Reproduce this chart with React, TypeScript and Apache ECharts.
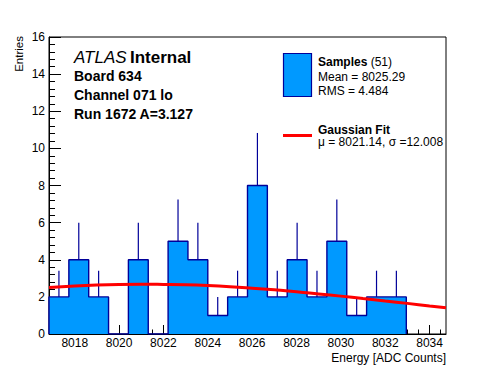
import React, { useEffect, useRef } from "react";
import * as echarts from "echarts";

// Histogram binning
const BIN_START = 8016.84;
const BIN_WIDTH = 0.895;
const X_MIN = 8016.84;
const X_MAX = 8034.74;

const binCounts = [2, 4, 2, 0, 4, 0, 5, 4, 1, 2, 8, 2, 4, 2, 5, 1, 2, 2];
const binErrors = [1.41, 2, 1.41, 0, 2, 0, 2.24, 2, 1, 1.41, 2.83, 1.41, 2, 1.41, 2.24, 1, 1.41, 1.41];

// Gaussian fit curve
const fitX = [8016.84, 8018, 8019, 8020, 8021, 8022, 8023, 8024, 8025, 8026, 8027, 8028, 8029, 8030, 8031, 8032, 8033, 8034, 8034.74];
const fitY = [2.51, 2.59, 2.64, 2.67, 2.68, 2.67, 2.65, 2.61, 2.55, 2.47, 2.38, 2.28, 2.16, 2.04, 1.91, 1.78, 1.65, 1.51, 1.41];

// Axis ticks
const xMajorTicks = [8018, 8020, 8022, 8024, 8026, 8028, 8030, 8032, 8034];
const xMinorTicks = [
  8017, 8017.5, 8018.5, 8019, 8019.5, 8020.5, 8021, 8021.5, 8022.5, 8023, 8023.5,
  8024.5, 8025, 8025.5, 8026.5, 8027, 8027.5, 8028.5, 8029, 8029.5, 8030.5, 8031,
  8031.5, 8032.5, 8033, 8033.5, 8034.5,
];

const titleLines = ["Board 634", "Channel 071 lo", "Run 1672 A=3.127"];
const legendSamples = ["Mean = 8025.29", "RMS = 4.484"];
const legendFit = "\u03bc = 8021.14, \u03c3 =12.008";

const FONT = "'Liberation Sans', Arial, Helvetica, sans-serif";
const FILL = "#0099ff";
const EDGE = "#000099";

export default function App() {
  const ref = useRef<HTMLDivElement>(null);

  useEffect(() => {
    if (!ref.current) return;
    const chart = echarts.init(ref.current, undefined, { renderer: "svg" });

    const stepData: number[][] = [[BIN_START, 0]];
    binCounts.forEach((c, i) => {
      const x0 = BIN_START + i * BIN_WIDTH;
      const x1 = x0 + BIN_WIDTH;
      stepData.push([x0, c], [x1, c]);
    });
    stepData.push([BIN_START + binCounts.length * BIN_WIDTH, 0]);

    const errData = binCounts.map((c, i) => [
      BIN_START + (i + 0.5) * BIN_WIDTH,
      c,
      c + binErrors[i],
    ]);

    const fitData = fitX.map((x, i) => [x, fitY[i]]);

    const option: any = {
      animation: false,
      grid: {
        left: 49,
        right: 50,
        top: 37,
        bottom: 38,
        show: true,
        borderColor: "#000",
        borderWidth: 1,
        backgroundColor: "transparent",
      },
      xAxis: [
        {
          type: "value",
          min: X_MIN,
          max: X_MAX,
          position: "bottom",
          axisLine: { show: true, onZero: false, lineStyle: { color: "#000", width: 1 } },
          axisTick: {
            show: true,
            inside: true,
            length: 9,
            customValues: xMajorTicks,
            lineStyle: { color: "#000", width: 1 },
          },
          axisLabel: {
            show: true,
            customValues: xMajorTicks,
            color: "#000",
            fontFamily: FONT,
            fontSize: 12,
            margin: 3,
            formatter: (v: number) => String(Math.round(v)),
          },
          splitLine: { show: false },
        },
        {
          type: "value",
          min: X_MIN,
          max: X_MAX,
          position: "bottom",
          gridIndex: 0,
          axisLine: { show: false },
          axisTick: {
            show: true,
            inside: true,
            length: 4.5,
            customValues: xMinorTicks,
            lineStyle: { color: "#000", width: 1 },
          },
          axisLabel: { show: false },
          splitLine: { show: false },
        },
      ],
      yAxis: {
        type: "value",
        min: 0,
        max: 16,
        interval: 2,
        axisLine: { show: true, lineStyle: { color: "#000", width: 1 } },
        axisTick: { show: true, inside: true, length: 12, lineStyle: { color: "#000" } },
        minorTick: { show: true, splitNumber: 5, length: 6, lineStyle: { color: "#000" } },
        axisLabel: { color: "#000", fontFamily: FONT, fontSize: 12, margin: 4 },
        splitLine: { show: false },
        minorSplitLine: { show: false },
      },
      series: [
        {
          type: "custom",
          xAxisIndex: 0,
          yAxisIndex: 0,
          data: errData,
          encode: { x: 0, y: [1, 2] },
          z: 1,
          renderItem: (params: any, api: any) => {
            const c = api.value(1);
            if (!c) return { type: "group", children: [] };
            const p0 = api.coord([api.value(0), c]);
            const p1 = api.coord([api.value(0), api.value(2)]);
            return {
              type: "line",
              shape: { x1: p0[0], y1: p0[1], x2: p1[0], y2: p1[1] },
              style: { stroke: EDGE, lineWidth: 1.2 },
            };
          },
        },
        {
          type: "line",
          xAxisIndex: 0,
          yAxisIndex: 0,
          data: stepData,
          symbol: "none",
          z: 2,
          lineStyle: { color: EDGE, width: 1.4 },
          areaStyle: { color: FILL, opacity: 1 },
        },
        {
          type: "line",
          xAxisIndex: 0,
          yAxisIndex: 0,
          data: fitData,
          symbol: "none",
          smooth: true,
          z: 3,
          lineStyle: { color: "#ff0000", width: 3 },
        },
      ],
      graphic: [
        {
          type: "text",
          x: 74,
          y: 57,
          z: 10,
          style: {
            text: "{a|ATLAS} {b|Internal}",
            verticalAlign: "middle",
            rich: {
              a: { fontFamily: FONT, fontSize: 17, fontStyle: "italic", fill: "#000" },
              b: { fontFamily: FONT, fontSize: 17, fontWeight: "bold", fill: "#000" },
            },
          },
        },
        ...titleLines.map((t, i) => ({
          type: "text",
          x: 74,
          y: 76 + i * 19,
          z: 10,
          style: {
            text: t,
            fontFamily: FONT,
            fontSize: 14,
            fontWeight: "bold",
            fill: "#000",
            verticalAlign: "middle",
          },
        })),
        {
          type: "rect",
          z: 10,
          shape: { x: 283.5, y: 53.5, width: 28, height: 43 },
          style: { fill: FILL, stroke: EDGE, lineWidth: 1.2 },
        },
        {
          type: "text",
          x: 318,
          y: 62,
          z: 10,
          style: {
            text: "{b|Samples} {r|(51)}",
            verticalAlign: "middle",
            rich: {
              b: { fontFamily: FONT, fontSize: 12, fontWeight: "bold", fill: "#000" },
              r: { fontFamily: FONT, fontSize: 12, fill: "#000" },
            },
          },
        },
        ...legendSamples.map((t, i) => ({
          type: "text",
          x: 318,
          y: 77 + i * 13.5,
          z: 10,
          style: { text: t, fontFamily: FONT, fontSize: 12, fill: "#000", verticalAlign: "middle" },
        })),
        {
          type: "line",
          z: 10,
          shape: { x1: 283, y1: 135.5, x2: 312, y2: 135.5 },
          style: { stroke: "#ff0000", lineWidth: 3 },
        },
        {
          type: "text",
          x: 318,
          y: 129.5,
          z: 10,
          style: {
            text: "Gaussian Fit",
            fontFamily: FONT,
            fontSize: 12,
            fontWeight: "bold",
            fill: "#000",
            verticalAlign: "middle",
          },
        },
        {
          type: "text",
          x: 318,
          y: 142,
          z: 10,
          style: { text: legendFit, fontFamily: FONT, fontSize: 12, fill: "#000", verticalAlign: "middle" },
        },
        {
          type: "text",
          x: 446,
          y: 357.5,
          z: 10,
          style: {
            text: "Energy [ADC Counts]",
            fontFamily: FONT,
            fontSize: 12,
            fill: "#000",
            align: "right",
            verticalAlign: "middle",
          },
        },
        {
          type: "text",
          x: 19,
          y: 36,
          rotation: Math.PI / 2,
          z: 10,
          style: {
            text: "Entries",
            fontFamily: FONT,
            fontSize: 11.5,
            fill: "#000",
            align: "right",
            verticalAlign: "middle",
          },
        },
      ],
    };

    chart.setOption(option);
    return () => chart.dispose();
  }, []);

  return <div ref={ref} style={{ width: 496, height: 372, position: "absolute", left: 0, top: 0 }} />;
}
